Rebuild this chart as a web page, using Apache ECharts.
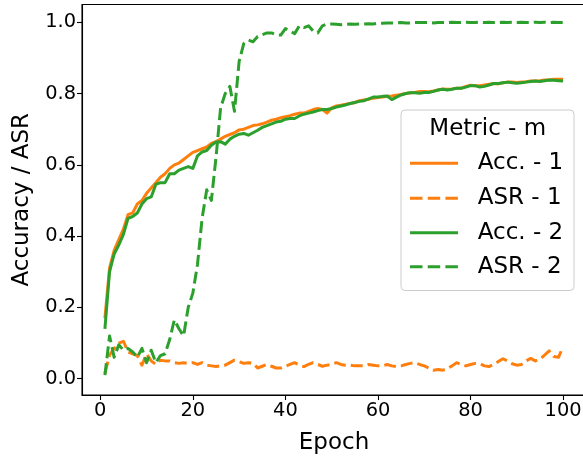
<!DOCTYPE html>
<html>
<head>
<meta charset="utf-8">
<script src="https://cdn.jsdelivr.net/npm/echarts@6/dist/echarts.min.js"></script>
<style>html,body{margin:0;padding:0;background:#fff}#c{width:583px;height:457px}</style>
</head>
<body>
<div id="c"></div>
<script>
const epochs = Array.from({length: 100}, (_, i) => i + 1);
const xTicks = [0, 20, 40, 60, 80, 100];
const yTicks = [0.0, 0.2, 0.4, 0.6, 0.8, 1.0];
const seriesNames = ['Acc. - 1', 'ASR - 1', 'Acc. - 2', 'ASR - 2'];
const legendTitle = 'Metric - m';

const acc1 = [0.17,0.31,0.36,0.39,0.42,0.46,0.465,0.49,0.50,0.52,
  0.535,0.55,0.565,0.575,0.59,0.60,0.605,0.615,0.625,0.635,
  0.64,0.645,0.65,0.66,0.665,0.672,0.68,0.685,0.69,0.698,
  0.70,0.705,0.71,0.712,0.715,0.72,0.725,0.728,0.732,0.735,
  0.738,0.742,0.745,0.745,0.75,0.755,0.758,0.755,0.745,0.76,
  0.765,0.767,0.77,0.772,0.775,0.78,0.782,0.784,0.787,0.789,
  0.79,0.792,0.793,0.795,0.797,0.80,0.802,0.803,0.806,0.806,
  0.805,0.807,0.81,0.813,0.812,0.813,0.815,0.815,0.82,0.823,
  0.822,0.822,0.824,0.826,0.828,0.827,0.83,0.832,0.832,0.831,
  0.832,0.833,0.835,0.835,0.836,0.838,0.838,0.84,0.84,0.84];

const asr1 = [0.015,0.066,0.085,0.10,0.105,0.075,0.07,0.065,0.038,0.07,
  0.05,0.04,0.052,0.05,0.05,0.045,0.043,0.045,0.043,0.045,
  0.04,0.045,0.038,0.036,0.034,0.036,0.038,0.045,0.052,0.048,
  0.043,0.045,0.043,0.03,0.035,0.04,0.035,0.03,0.03,0.035,
  0.04,0.045,0.038,0.034,0.04,0.045,0.04,0.035,0.038,0.04,
  0.045,0.04,0.038,0.038,0.036,0.036,0.036,0.04,0.038,0.036,
  0.036,0.04,0.036,0.034,0.036,0.04,0.043,0.045,0.04,0.036,
  0.03,0.024,0.026,0.024,0.028,0.036,0.045,0.04,0.036,0.04,
  0.043,0.042,0.036,0.034,0.04,0.048,0.056,0.05,0.042,0.038,
  0.04,0.05,0.057,0.05,0.055,0.066,0.078,0.062,0.06,0.09];

const acc2 = [0.14,0.30,0.35,0.375,0.405,0.45,0.455,0.465,0.49,0.505,
  0.51,0.545,0.55,0.55,0.575,0.575,0.585,0.59,0.595,0.59,
  0.625,0.636,0.64,0.655,0.664,0.665,0.658,0.672,0.68,0.686,
  0.688,0.683,0.69,0.697,0.705,0.71,0.715,0.72,0.722,0.728,
  0.73,0.73,0.737,0.742,0.745,0.748,0.752,0.755,0.755,0.758,
  0.762,0.765,0.768,0.772,0.775,0.778,0.78,0.785,0.79,0.79,
  0.792,0.793,0.783,0.79,0.796,0.80,0.802,0.802,0.801,0.803,
  0.803,0.806,0.81,0.812,0.81,0.812,0.815,0.815,0.818,0.822,
  0.822,0.818,0.82,0.824,0.828,0.828,0.83,0.832,0.83,0.829,
  0.83,0.832,0.834,0.835,0.834,0.836,0.838,0.837,0.836,0.835];

const asr2 = [0.01,0.12,0.06,0.095,0.08,0.085,0.075,0.06,0.085,0.045,
  0.08,0.045,0.065,0.07,0.11,0.165,0.14,0.12,0.20,0.24,
  0.32,0.45,0.53,0.50,0.62,0.76,0.80,0.82,0.75,0.89,
  0.94,0.95,0.945,0.96,0.965,0.97,0.97,0.965,0.964,0.982,
  0.975,0.968,0.99,0.985,0.99,0.975,0.97,0.99,0.995,0.995,
  0.994,0.993,0.994,0.995,0.994,0.995,0.995,0.996,0.995,0.997,
  0.997,0.998,0.998,0.998,0.999,0.998,0.998,0.999,0.999,0.999,
  0.999,0.998,0.999,0.999,0.999,1.0,0.999,0.999,1.0,0.999,
  0.999,1.0,0.999,1.0,0.999,0.999,1.0,0.999,1.0,0.999,
  1.0,0.999,0.999,1.0,0.999,1.0,0.999,1.0,0.999,0.999];

const ORANGE = '#ff7f0e', GREEN = '#2ca02c';
const FONT = 'DejaVu Sans';
const valuesList = [acc1, asr1, acc2, asr2];
const colors = [ORANGE, ORANGE, GREEN, GREEN];
const dashed = [false, true, false, true];
const DASH = [12, 5];

const chart = echarts.init(document.getElementById('c'), null, {renderer: 'canvas'});
const series = seriesNames.map((name, i) => ({
  name: name,
  type: 'line',
  data: epochs.map((e, j) => [e, valuesList[i][j]]),
  showSymbol: false,
  symbol: 'none',
  animation: false,
  lineStyle: {color: colors[i], width: 3, type: dashed[i] ? DASH : 'solid', cap: 'butt', join: 'round'},
  itemStyle: {color: colors[i]},
  z: 2 + i
}));

// legend (decoration) built with graphic elements
const LFONT = '23px "DejaVu Sans"';
const legendGraphics = [
  {type: 'rect', shape: {x: 401, y: 110, width: 173, height: 180.5, r: 4}, style: {fill: 'rgba(255,255,255,0.8)', stroke: '#cccccc', lineWidth: 1}, z: 50},
  {type: 'text', x: 487.7, y: 129, style: {text: legendTitle, font: LFONT, fill: '#000', textAlign: 'center', textVerticalAlign: 'middle'}, z: 51}
];
const rowY = [163.3, 198.3, 232.7, 266.7];
seriesNames.forEach((name, i) => {
  legendGraphics.push({
    type: 'line', shape: {x1: 410, y1: rowY[i], x2: 458, y2: rowY[i]},
    style: {stroke: colors[i], lineWidth: 3, lineDash: dashed[i] ? [12.5, 5.2] : null, lineCap: 'butt'}, z: 51
  });
  legendGraphics.push({
    type: 'text', x: 477.7, y: rowY[i],
    style: {text: name, font: LFONT, fill: '#000', textAlign: 'left', textVerticalAlign: 'middle'}, z: 51
  });
});

chart.setOption({
  animation: false,
  grid: {left: 82, top: 4.5, width: 504, height: 390.5, outerBoundsMode: 'none', containLabel: false, show: true, borderColor: '#000', borderWidth: 1.1, backgroundColor: 'transparent'},
  xAxis: {
    type: 'value', min: -3.95, max: 104.95,
    name: 'Epoch', nameLocation: 'middle', nameGap: 37,
    nameTextStyle: {fontFamily: FONT, fontSize: 23, color: '#000'},
    axisLine: {show: true, onZero: false, lineStyle: {color: '#000', width: 1.1}},
    axisTick: {show: true, length: 5, lineStyle: {color: '#000', width: 1.1}, customValues: xTicks},
    axisLabel: {fontFamily: FONT, fontSize: 19.4, color: '#000', margin: 6, customValues: xTicks, formatter: v => String(v)},
    splitLine: {show: false}
  },
  yAxis: {
    type: 'value', min: -0.0457, max: 1.0497,
    name: 'Accuracy / ASR', nameLocation: 'middle', nameGap: 48,
    nameTextStyle: {fontFamily: FONT, fontSize: 23, color: '#000'},
    axisLine: {show: true, onZero: false, lineStyle: {color: '#000', width: 1.1}},
    axisTick: {show: true, length: 5, lineStyle: {color: '#000', width: 1.1}, customValues: yTicks},
    axisLabel: {fontFamily: FONT, fontSize: 19.4, color: '#000', margin: 6, customValues: yTicks, formatter: v => v.toFixed(1)},
    splitLine: {show: false}
  },
  graphic: legendGraphics,
  series: series
});
</script>
</body>
</html>
